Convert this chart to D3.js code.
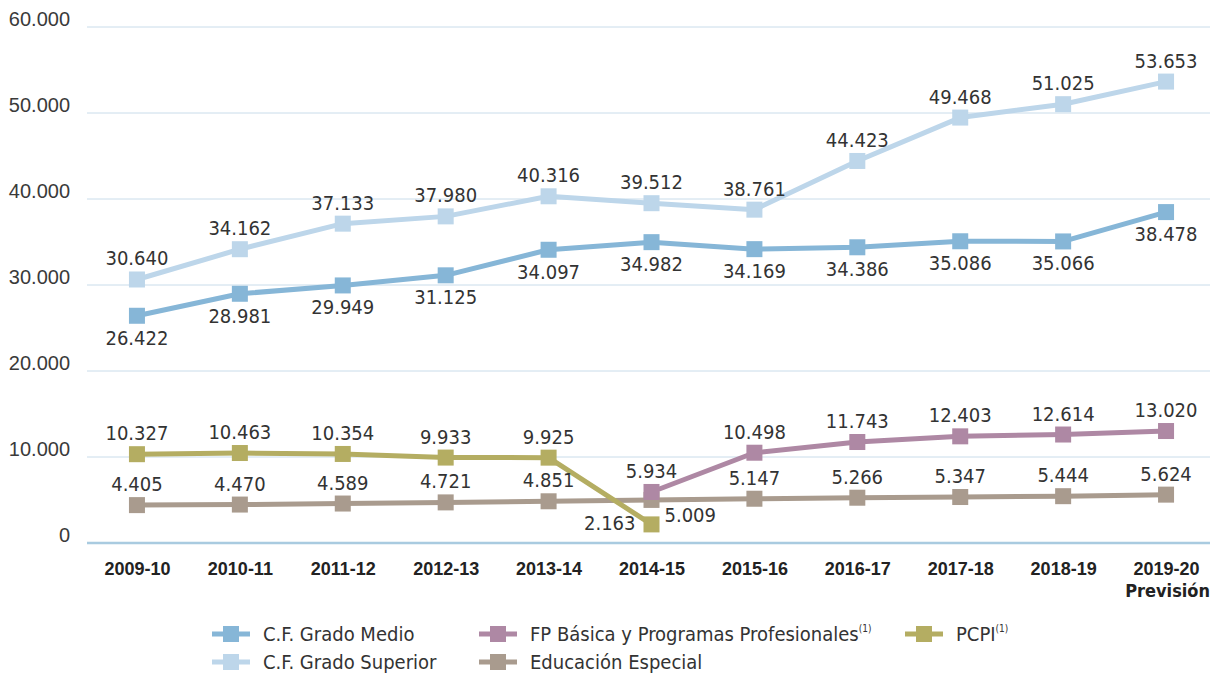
<!DOCTYPE html>
<html>
<head>
<meta charset="utf-8">
<script src="https://cdn.jsdelivr.net/npm/d3@7"></script>
<style>
  body { margin: 0; background: #fff; }
  svg { font-family: "Liberation Sans Narrow", "DejaVu Sans Condensed", "Roboto Condensed", sans-serif; font-stretch: condensed; }
</style>
</head>
<body>
<div id="chart"></div>
<script>
var cursos = ['2009-10', '2010-11', '2011-12', '2012-13', '2013-14', '2014-15', '2015-16', '2016-17', '2017-18', '2018-19', '2019-20'];
var gradoMedio = [26422, 28981, 29949, 31125, 34097, 34982, 34169, 34386, 35086, 35066, 38478];
var gradoSuperior = [30640, 34162, 37133, 37980, 40316, 39512, 38761, 44423, 49468, 51025, 53653];
var fpBasica = [null, null, null, null, null, 5934, 10498, 11743, 12403, 12614, 13020];
var pcpi = [10327, 10463, 10354, 9933, 9925, 2163, null, null, null, null, null];
var educEspecial = [4405, 4470, 4589, 4721, 4851, 5009, 5147, 5266, 5347, 5444, 5624];
var yTicks = [0, 10000, 20000, 30000, 40000, 50000, 60000];

var width = 1213, height = 674;
var svg = d3.select('#chart').append('svg').attr('width', width).attr('height', height);

var x = d3.scalePoint().domain(cursos).range([85.5, 1217.5]).padding(0.5);
var y = d3.scaleLinear().domain([0, 60000]).range([543, 27]);

var fmt = function (v) { return d3.format(',')(v).replace(/,/g, '.'); };

// gridlines
svg.append('g').selectAll('line')
    .data(yTicks.slice(1))
    .enter().append('line')
    .attr('x1', 87).attr('x2', 1210)
    .attr('y1', function (d) { return y(d); })
    .attr('y2', function (d) { return y(d); })
    .attr('stroke', '#c9dcea').attr('stroke-width', 1);

svg.append('line')
    .attr('x1', 87).attr('x2', 1210)
    .attr('y1', y(0)).attr('y2', y(0))
    .attr('stroke', '#a9cbe0').attr('stroke-width', 2.5);

// y axis labels
var yAxis = d3.axisLeft(y).tickValues(yTicks).tickSize(0).tickPadding(0)
    .tickFormat(function (d) { return d === 0 ? '0' : fmt(d); });
var gy = svg.append('g').attr('transform', 'translate(70,0)').call(yAxis);
gy.select('.domain').remove();
gy.selectAll('text').attr('font-size', 20).attr('fill', '#3a3a3a').attr('font-family', null).attr('dy', '-0.1em');

// x axis labels
var xAxis = d3.axisBottom(x).tickSize(0).tickPadding(0);
var gx = svg.append('g').attr('transform', 'translate(0,562)').call(xAxis);
gx.select('.domain').remove();
gx.selectAll('text').attr('font-size', 18).attr('font-weight', 'bold').attr('fill', '#222').attr('font-family', null);
svg.append('text')
    .attr('x', 1210).attr('y', 597)
    .attr('text-anchor', 'end').attr('font-size', 18).attr('font-weight', 'bold').attr('fill', '#222')
    .text('Previsión');

var series = [
    { name: 'C.F. Grado Medio', values: gradoMedio, color: '#86b6d7', pos: 'below' },
    { name: 'C.F. Grado Superior', values: gradoSuperior, color: '#bdd6ea', pos: 'above' },
    { name: 'FP Básica y Programas Profesionales', values: fpBasica, color: '#ae88a4', pos: 'above', sup: true },
    { name: 'PCPI', values: pcpi, color: '#b4ad62', pos: 'above', sup: true },
    { name: 'Educación Especial', values: educEspecial, color: '#a99b8e', pos: 'above' }
];

var line = d3.line()
    .defined(function (d) { return d.v != null; })
    .x(function (d) { return x(d.c); })
    .y(function (d) { return y(d.v); });

var drawOrder = [4, 3, 2, 0, 1];
drawOrder.forEach(function (si) {
    var s = series[si];
    var pts = s.values.map(function (v, i) { return { c: cursos[i], v: v }; });
    var g = svg.append('g');
    g.append('path').datum(pts)
        .attr('d', line).attr('fill', 'none')
        .attr('stroke', s.color).attr('stroke-width', 5).attr('stroke-linejoin', 'round');
    var valid = pts.filter(function (d) { return d.v != null; });
    g.selectAll('rect').data(valid).enter().append('rect')
        .attr('x', function (d) { return x(d.c) - 8; })
        .attr('y', function (d) { return y(d.v) - 8; })
        .attr('width', 16).attr('height', 16)
        .attr('fill', s.color);
    s.pts = valid;
});

// value labels
series.forEach(function (s, si) {
    svg.append('g').selectAll('text').data(s.pts).enter().append('text')
        .attr('font-size', 20).attr('fill', '#333')
        .attr('text-anchor', function (d) {
            if (si === 3 && d.c === '2014-15') return 'end';
            if (si === 4 && d.c === '2014-15') return 'start';
            return 'middle';
        })
        .attr('x', function (d) {
            if (si === 3 && d.c === '2014-15') return x(d.c) - 16;
            if (si === 4 && d.c === '2014-15') return x(d.c) + 13;
            return x(d.c);
        })
        .attr('y', function (d) {
            if (si === 3 && d.c === '2014-15') return y(d.v) + 6;
            if (si === 4 && d.c === '2014-15') return y(d.v) + 22;
            return s.pos === 'below' ? y(d.v) + 29 : y(d.v) - 14;
        })
        .text(function (d) { return fmt(d.v); });
});

// legend
var legendItems = [
    { s: series[0], x: 212, y: 634 },
    { s: series[1], x: 212, y: 662 },
    { s: series[2], x: 479, y: 634 },
    { s: series[4], x: 479, y: 662 },
    { s: series[3], x: 905, y: 634 }
];
var lg = svg.append('g').selectAll('g').data(legendItems).enter().append('g')
    .attr('transform', function (d) { return 'translate(' + d.x + ',' + d.y + ')'; });
lg.append('line').attr('x1', 0).attr('x2', 38).attr('y1', 0).attr('y2', 0)
    .attr('stroke', function (d) { return d.s.color; }).attr('stroke-width', 5);
lg.append('rect').attr('x', 11).attr('y', -8).attr('width', 16).attr('height', 16)
    .attr('fill', function (d) { return d.s.color; });
var lt = lg.append('text').attr('x', 51).attr('y', 7).attr('font-size', 20).attr('fill', '#333')
    .text(function (d) { return d.s.name; });
lt.filter(function (d) { return d.s.sup; }).append('tspan')
    .attr('font-size', 10).attr('dy', -9).text('(1)');
</script>
</body>
</html>
